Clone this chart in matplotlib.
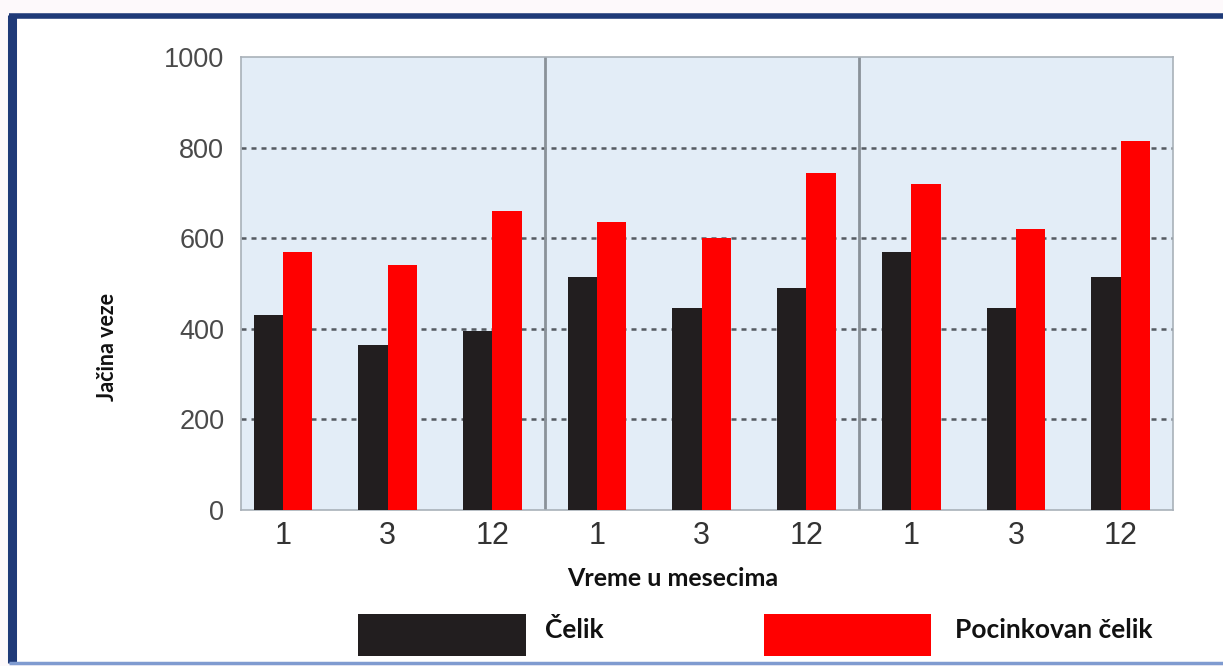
import numpy as np
import matplotlib.pyplot as plt
from matplotlib.patches import Rectangle

# bond strength after 1, 3 and 12 months, three test series
months = ["1", "3", "12", "1", "3", "12", "1", "3", "12"]
celik = [430, 365, 395, 515, 445, 490, 570, 445, 515]
pocinkovan = [570, 540, 660, 635, 600, 745, 720, 620, 815]
series_names = ["Čelik", "Pocinkovan čelik"]
y_ticks = [0, 200, 400, 600, 800, 1000]

W, H = 1223, 666
fig = plt.figure(figsize=(W / 100, H / 100), dpi=100, facecolor="#fdf9fb")

def px(x0, y0, x1, y1):
    # pixel box (top-left origin) -> figure fraction rect
    return (x0 / W, 1 - y1 / H), (x1 - x0) / W, (y1 - y0) / H

# white panel + navy frame
xy, w, h = px(12, 15, W + 5, 662)
fig.add_artist(Rectangle(xy, w, h, transform=fig.transFigure, facecolor="white",
                         edgecolor="none", zorder=0))
fig.add_artist(plt.Line2D([12 / W, 12 / W], [1 - 15 / H, 1 - 663 / H], transform=fig.transFigure,
                          color="#1f3a78", lw=6.5, solid_capstyle="butt"))
fig.add_artist(plt.Line2D([9 / W, 1.0], [1 - 15.5 / H, 1 - 15.5 / H], transform=fig.transFigure,
                          color="#1f3a78", lw=4, solid_capstyle="butt"))
fig.add_artist(plt.Line2D([9 / W, 1.0], [1 - 663 / H, 1 - 663 / H], transform=fig.transFigure,
                          color="#7f9bd0", lw=2.5, solid_capstyle="butt"))

ax = fig.add_axes([241 / W, 1 - 510 / H, (1173 - 241) / W, (510 - 57) / H])
ax.set_facecolor("#e3edf7")

x = np.arange(len(months))
bw = 0.28
ax.bar(x - bw / 2, celik, bw, color="#221e1f", zorder=3)
ax.bar(x + bw / 2, pocinkovan, bw, color="#ff0000", zorder=3)

for yv in y_ticks[1:-1]:
    ax.axhline(yv, color="#555a61", lw=1.8, ls=(0, (2, 2)), zorder=1)
for xs in (2.5, 5.5):
    ax.axvline(xs, color="#8a9299", lw=2, zorder=2)

ax.set_xlim(-0.40, 8.50)
ax.set_ylim(0, 1000)
ax.set_xticks(x)
ax.set_xticklabels(months, fontsize=22, color="#333333", family="Liberation Sans")
ax.set_yticks(y_ticks)
ax.set_yticklabels([str(v) for v in y_ticks], fontsize=19.5, color="#4a4a4a", family="Liberation Sans")
ax.tick_params(axis="x", length=0, pad=8)
ax.tick_params(axis="y", length=0, pad=12)
for s in ax.spines.values():
    s.set_color("#a9b1b9")
    s.set_linewidth(1.2)

bold = dict(family="Lato", weight="bold", color="#111111")
fig.text(673 / W, 1 - 578 / H, "Vreme u mesecima", fontsize=18, ha="center", va="center", **bold)
fig.text(107 / W, 1 - 347 / H, "Jačina veze", fontsize=15.5, rotation=90, ha="center", va="center", **bold)

# legend swatches
for (x0, x1), col, (tx, name) in zip([(358, 526), (764, 931)], ["#221e1f", "#ff0000"],
                                     [(545, series_names[0]), (955, series_names[1])]):
    xy, w, h = px(x0, 614, x1, 656)
    fig.add_artist(Rectangle(xy, w, h, transform=fig.transFigure, facecolor=col, edgecolor="none"))
    fig.text(tx / W, 1 - 630 / H, name, fontsize=19, ha="left", va="center", **bold)

fig.savefig("out.png", dpi=100, facecolor=fig.get_facecolor())
